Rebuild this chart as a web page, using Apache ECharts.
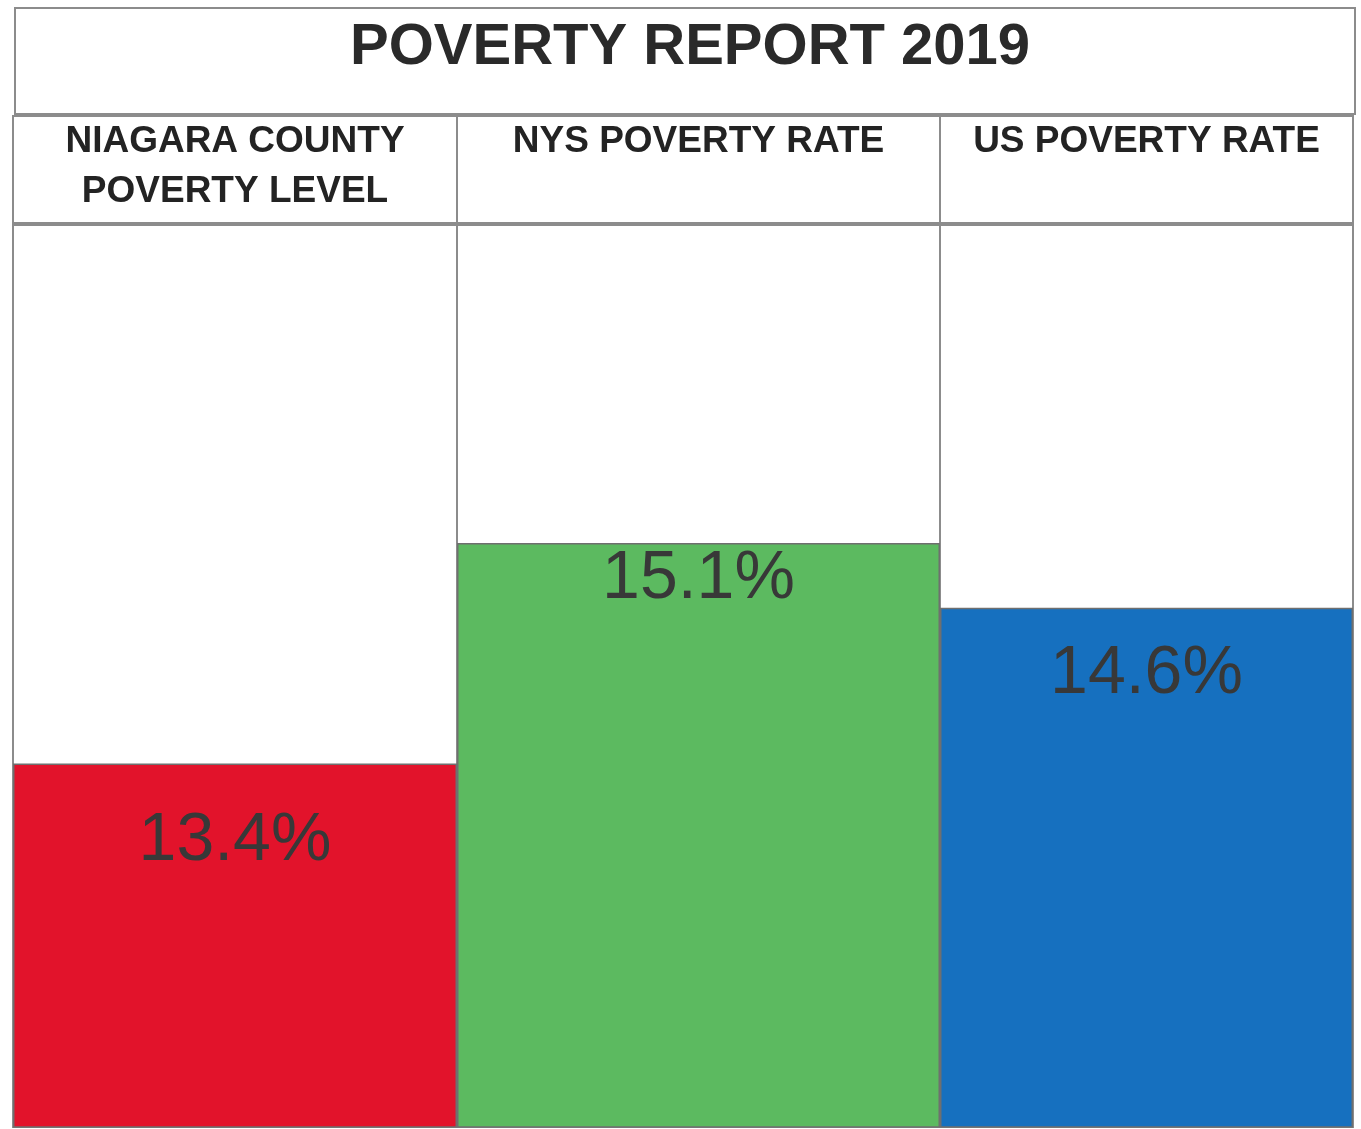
<!DOCTYPE html>
<html>
<head>
<meta charset="utf-8">
<title>Poverty Report 2019</title>
<script src="https://cdn.jsdelivr.net/npm/echarts@6/dist/echarts.min.js"></script>
<style>
  html, body { margin: 0; padding: 0; background: #fff; }
  #chart { width: 1361px; height: 1129px; }
</style>
</head>
<body>
<div id="chart"></div>
<script>
// Poverty rates, 2019
const titleText = 'POVERTY REPORT 2019';
const categories = ['NIAGARA COUNTY\nPOVERTY LEVEL', 'NYS POVERTY RATE', 'US POVERTY RATE'];
const rates = [13.4, 15.1, 14.6];
const barColors = ['#e2132b', '#5cba60', '#1670bf'];
const labelGaps = [44, 2, 32];

// column edges of the table (px)
const edges = [13, 457, 940, 1353];
const plotTop = 225;
const plotBottom = 2;
const yMin = 10.6, yMax = 17.55;

const FONT = '"Liberation Sans", Arial, sans-serif';
const LINE = '#8c8c8c';

const grids = [], xAxes = [], yAxes = [], series = [];
categories.forEach((name, i) => {
  grids.push({
    left: edges[i],
    width: edges[i + 1] - edges[i],
    top: plotTop,
    bottom: plotBottom,
    show: true,
    borderColor: LINE,
    borderWidth: 2,
    backgroundColor: '#fff'
  });
  xAxes.push({
    type: 'category',
    gridIndex: i,
    position: 'top',
    data: [name],
    axisLine: { show: false },
    axisTick: { show: false },
    axisLabel: {
      margin: 108,
      verticalAlign: 'top',
      fontFamily: FONT,
      fontWeight: 'bold',
      fontSize: 37,
      lineHeight: 50,
      color: '#232323'
    }
  });
  yAxes.push({
    type: 'value',
    gridIndex: i,
    min: yMin,
    max: yMax,
    show: false,
    splitLine: { show: false }
  });
  series.push({
    type: 'bar',
    xAxisIndex: i,
    yAxisIndex: i,
    barWidth: '100%',
    data: [{
      value: rates[i],
      label: { distance: labelGaps[i] }
    }],
    itemStyle: {
      color: barColors[i],
      borderColor: '#6f6f6f',
      borderWidth: 1.5
    },
    label: {
      show: true,
      position: 'insideTop',
      formatter: '{c}%',
      fontFamily: FONT,
      fontSize: 68,
      color: '#383838'
    },
    silent: true
  });
});

const chart = echarts.init(document.getElementById('chart'), null, { renderer: 'canvas' });
chart.setOption({
  backgroundColor: '#fff',
  animation: false,
  title: {
    text: titleText,
    left: 345,
    top: 12,
    textStyle: {
      fontFamily: FONT,
      fontWeight: 'bold',
      fontSize: 58,
      lineHeight: 62,
      color: '#2a2a2a'
    }
  },
  graphic: [
    // title cell
    { type: 'rect', z: -1, shape: { x: 15, y: 8, width: 1340, height: 106 },
      style: { fill: '#fff', stroke: LINE, lineWidth: 2 } },
    // header row cells
    { type: 'rect', z: -1, shape: { x: edges[0], y: 116, width: edges[1] - edges[0], height: 107 },
      style: { fill: '#fff', stroke: LINE, lineWidth: 2 } },
    { type: 'rect', z: -1, shape: { x: edges[1], y: 116, width: edges[2] - edges[1], height: 107 },
      style: { fill: '#fff', stroke: LINE, lineWidth: 2 } },
    { type: 'rect', z: -1, shape: { x: edges[2], y: 116, width: edges[3] - edges[2], height: 107 },
      style: { fill: '#fff', stroke: LINE, lineWidth: 2 } }
  ],
  grid: grids,
  xAxis: xAxes,
  yAxis: yAxes,
  series: series
});
</script>
</body>
</html>
